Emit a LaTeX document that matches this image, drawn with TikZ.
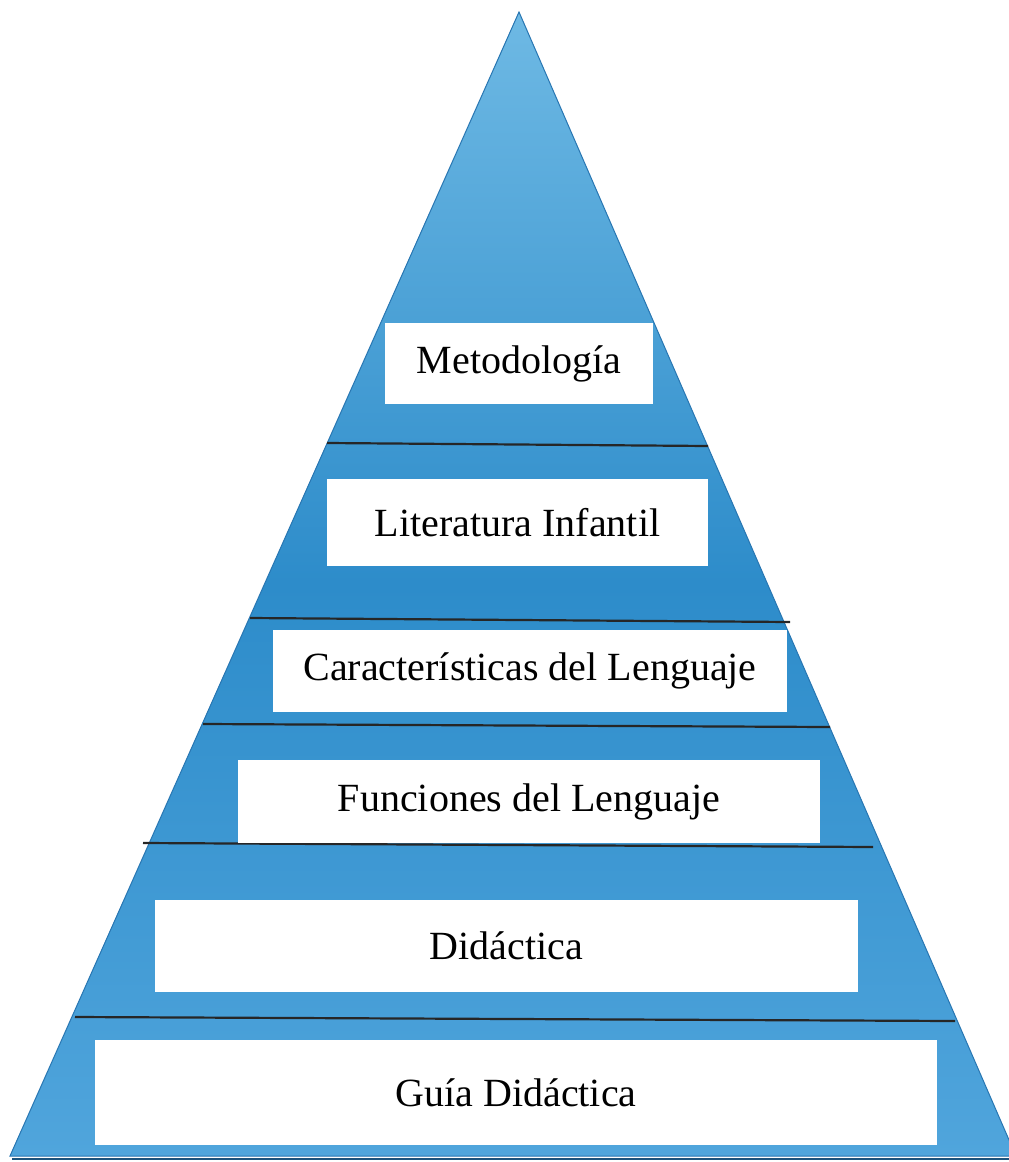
\documentclass[tikz,border=0pt]{standalone}
\usepackage{fontspec}
\setmainfont{Liberation Serif}
\definecolor{pyrtop}{RGB}{110,185,228}
\definecolor{pyrmid}{RGB}{45,140,202}
\definecolor{pyrbot}{RGB}{80,165,220}
\definecolor{pyredge}{RGB}{40,118,178}
\begin{document}
\begin{tikzpicture}[x=1pt,y=-1pt,
  label box/.style={fill=white,draw=none,inner sep=0pt,font=\fontsize{40}{46}\selectfont},
  divider/.style={draw=black!85,line width=2.2pt}]
\useasboundingbox (0,0) rectangle (1009,1162);
% pyramid
\coordinate (apex) at (519,12);
\coordinate (bl) at (10,1156);
\coordinate (br) at (1016,1156);
\shade[top color=pyrtop, bottom color=pyrbot, middle color=pyrmid, draw=pyredge, line width=1pt]
  (apex) -- (br) -- (bl) -- cycle;
\draw[pyredge!70!black, line width=2pt] (12,1159) -- (1009,1159);
% dividers
\coordinate (d1l) at (327,443); \coordinate (d1r) at (708,446);
\coordinate (d2l) at (250,618); \coordinate (d2r) at (790,622);
\coordinate (d3l) at (203,724); \coordinate (d3r) at (830,727);
\coordinate (d4l) at (143,843); \coordinate (d4r) at (873,847);
\coordinate (d5l) at (75,1017); \coordinate (d5r) at (955,1021);
\draw[divider] (d1l) -- (d1r);
\draw[divider] (d2l) -- (d2r);
\draw[divider] (d3l) -- (d3r);
\draw[divider] (d4l) -- (d4r);
\draw[divider] (d5l) -- (d5r);
% boxes
\node[label box, minimum width=268pt, minimum height=81pt] (b1) at (519,363.5) {Metodología};
\node[label box, minimum width=381pt, minimum height=87pt] (b2) at (517.5,522.5) {Literatura Infantil};
\node[label box, minimum width=514pt, minimum height=82pt] (b3) at (530,671) {Características del Lenguaje};
\node[label box, minimum width=582pt, minimum height=83pt] (b4) at (529,801.5) {Funciones del Lenguaje};
\node[label box, minimum width=703pt, minimum height=92pt] (b5) at (506.5,946) {Didáctica};
\node[label box, minimum width=842pt, minimum height=105pt] (b6) at (516,1092.5) {Guía Didáctica};
\end{tikzpicture}
\end{document}
